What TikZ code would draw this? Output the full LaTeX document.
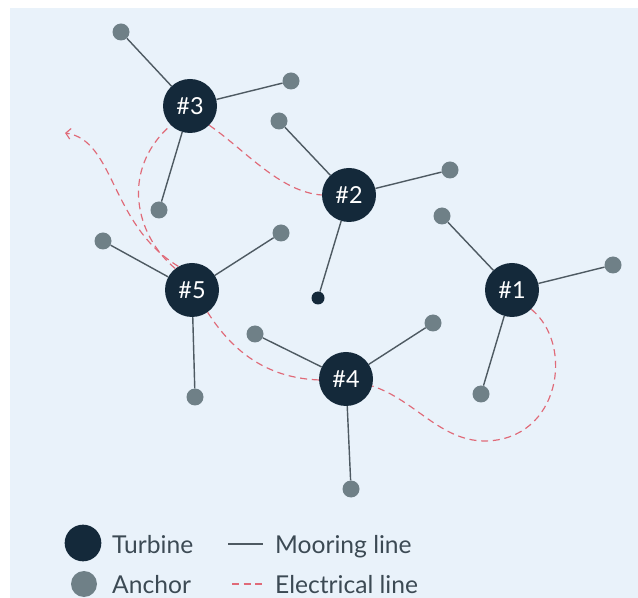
\documentclass[tikz,border=0pt]{standalone}
\usepackage{fontspec}
\setmainfont{Lato}
\usepackage{tikz}
\usetikzlibrary{arrows.meta}
\usepackage{xcolor}
\definecolor{xsea}{HTML}{E9F2FA}
\definecolor{xnavy}{HTML}{14293A}
\definecolor{xgrey}{HTML}{6F8087}
\definecolor{xrope}{HTML}{4E5A62}
\definecolor{xred}{HTML}{E06A78}
\definecolor{xtext}{HTML}{3C4A54}
\tikzset{
	turbine/.style={circle, fill=xnavy, inner sep=0pt, minimum size=1.62cm, text=white, font=\fontsize{20}{22}\selectfont},
	anchorpt/.style={circle, fill=xgrey, inner sep=0pt, minimum size=0.51cm},
	mooring/.style={draw=xrope, line width=1.2pt},
	elec/.style={draw=xred, line width=1pt, dash pattern=on 6pt off 4pt},
	legend/.style={anchor=base west, text=xtext, inner sep=0pt, font=\fontsize{21}{25}\selectfont},
}

\begin{document}
\begin{tikzpicture}[x=0.03cm, y=-0.03cm]
	\useasboundingbox (0,0) rectangle (638,598);
	\fill[xsea] (10,8) rectangle (638,598);

	% turbines
	\node[turbine] (T1) at (512,290) {\#1};
	\node[turbine] (T2) at (349,195) {\#2};
	\node[turbine] (T3) at (190,106) {\#3};
	\node[turbine] (T4) at (346,379) {\#4};
	\node[turbine] (T5) at (192,290) {\#5};

	% anchors
	\node[anchorpt] (A1a) at (442,216) {};
	\node[anchorpt] (A1b) at (613,265) {};
	\node[anchorpt] (A1c) at (481,394) {};
	\node[anchorpt] (A2a) at (279,121) {};
	\node[anchorpt] (A2b) at (450,170) {};
	\node[anchorpt, fill=xnavy, minimum size=0.39cm] (A2c) at (318,298) {};
	\node[anchorpt] (A3a) at (121,32) {};
	\node[anchorpt] (A3b) at (291,81) {};
	\node[anchorpt] (A3c) at (159,210) {};
	\node[anchorpt] (A4a) at (255,334) {};
	\node[anchorpt] (A4b) at (433,323) {};
	\node[anchorpt] (A4c) at (351,489) {};
	\node[anchorpt] (A5a) at (103,241) {};
	\node[anchorpt] (A5b) at (281,233) {};
	\node[anchorpt] (A5c) at (195,397) {};

	% mooring lines
	\foreach \t in {1,...,5}
		\foreach \a in {a,b,c}
			\draw[mooring] (T\t) -- (A\t\a);

	% export cable
	\coordinate (shore) at (65,133);
	\draw[elec] (T1.-45) .. controls (575,345) and (560,440) .. (485,441)
		.. controls (440,441) and (415,400) .. (T4.-15);
	\draw[elec] (T4.182) .. controls (270,378) and (235,355) .. (T5.-55);
	\draw[elec] (T5.128) .. controls (135,235) and (120,170) .. (T3.225);
	\draw[elec] (T3.-45) .. controls (245,150) and (280,192) .. (T2.west);
	\draw[elec, -{Straight Barb[length=4pt, width=9pt]}] (T5.120) .. controls (110,225) and (115,140) .. (shore);

	% legend
	\node[turbine, minimum size=1.1cm] (LT) at (83,543) {};
	\node[anchorpt, minimum size=0.78cm] (LA) at (84,584) {};
	\node[legend] (LTtxt) at (112,553) {Turbine};
	\node[legend] (LAtxt) at (112,593) {Anchor};
	\coordinate (m1) at (228,544);
	\coordinate (m2) at (263,544);
	\coordinate (e1) at (232,584);
	\coordinate (e2) at (263,584);
	\draw[mooring] (m1) -- (m2);
	\draw[elec] (e1) -- (e2);
	\node[legend] (LMtxt) at (275,553) {Mooring line};
	\node[legend] (LEtxt) at (275,593) {Electrical line};
\end{tikzpicture}
\end{document}
